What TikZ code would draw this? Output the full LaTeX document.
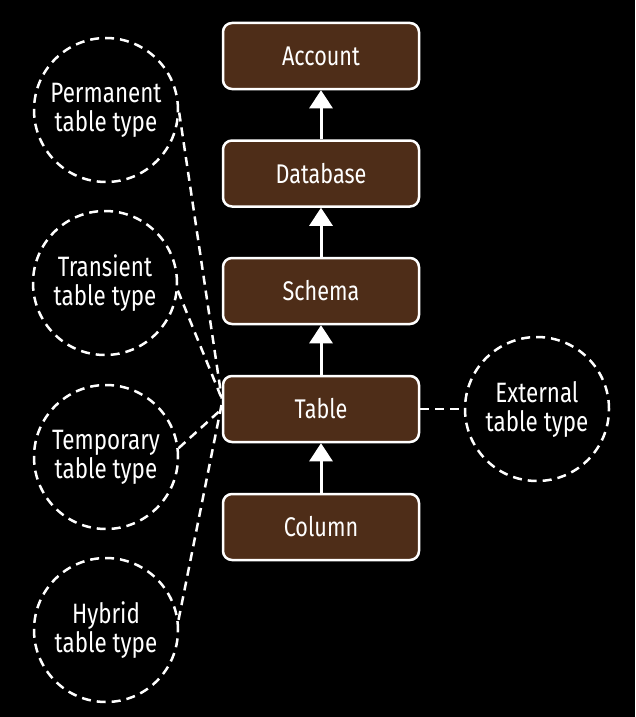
\documentclass[tikz,border=0pt]{standalone}
\usepackage{fontspec}
\setmainfont{Fira Sans}[FakeStretch=0.8]
\usetikzlibrary{arrows.meta}
\definecolor{boxbrown}{RGB}{78,45,24}
\tikzset{
  levelbox/.style={draw=white, line width=2.5pt, fill=boxbrown, rounded corners=9pt,
    minimum width=196pt, minimum height=66pt, text=white, font=\fontsize{27}{30}\selectfont, inner sep=0pt},
  typecircle/.style={circle, draw=white, line width=2.5pt, dash pattern=on 9pt off 6pt,
    minimum size=144pt, text=white, align=center, font=\fontsize{28}{29}\selectfont, inner sep=0pt},
  uparrow/.style={draw=white, line width=3pt, -{Triangle[width=23pt,length=18pt]}},
  dashlink/.style={draw=white, line width=2.5pt, dash pattern=on 9pt off 6pt}
}
\begin{document}
\begin{tikzpicture}[x=1pt,y=-1pt]
\fill[black] (0,0) rectangle (635,717);
\useasboundingbox (0,0) rectangle (635,717);
\node[levelbox] (acc) at (321,56) {Account};
\node[levelbox] (db) at (321,173.5) {Database};
\node[levelbox] (sch) at (321,291) {Schema};
\node[levelbox] (tab) at (321,409) {Table};
\node[levelbox] (col) at (321,527) {Column};
\draw[uparrow] (db.north) -- (acc.south);
\draw[uparrow] (sch.north) -- (db.south);
\draw[uparrow] (tab.north) -- (sch.south);
\draw[uparrow] (col.north) -- (tab.south);
\node[typecircle] (perm) at (106,110) {Permanent\\table type};
\node[typecircle] (trans) at (105,283) {Transient\\table type};
\node[typecircle] (temp) at (106,457) {Temporary\\table type};
\node[typecircle] (hyb) at (106,630) {Hybrid\\table type};
\node[typecircle] (ext) at (537,409) {External\\table type};
\draw[dashlink] (perm.-2) -- (tab.174);
\draw[dashlink] (trans.-6) -- (tab.174);
\draw[dashlink] (temp.7) -- (tab.west);
\draw[dashlink] (hyb.8) -- (tab.177);
\draw[dashlink] (tab.east) -- (ext.west);
\end{tikzpicture}
\end{document}
